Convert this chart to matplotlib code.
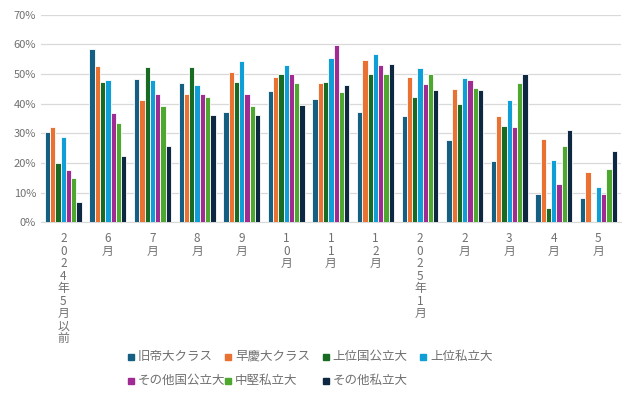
import matplotlib.pyplot as plt
from matplotlib.patches import Rectangle
import numpy as np

plt.rcParams['font.family'] = ['Noto Sans CJK JP', 'DejaVu Sans']

# categories (month labels, stacked vertically as in the original)
months = ["2024年5月以前", "6月", "7月", "8月", "9月", "10月", "11月", "12月",
          "2025年1月", "2月", "3月", "4月", "5月"]

# series values (%)
kyutei = [30.4, 58.3, 48.4, 47.0, 37.3, 44.4, 41.5, 37.3, 36.0, 27.6, 20.6, 9.7, 8.1]
soukei = [32.0, 52.7, 41.3, 43.1, 50.8, 49.0, 47.1, 54.6, 49.0, 45.1, 35.7, 28.2, 16.9]
joui_kokkou = [20.0, 47.3, 52.5, 52.5, 47.3, 49.9, 47.3, 49.9, 42.4, 39.8, 32.4, 4.7, 0.0]
joui_shiritsu = [28.8, 47.9, 47.9, 46.4, 54.4, 53.1, 55.5, 56.6, 52.0, 48.8, 41.1, 20.9, 11.9]
sonota_kokkou = [17.5, 37.0, 43.4, 43.4, 43.4, 49.9, 59.7, 53.1, 46.6, 48.1, 32.2, 12.8, 9.7]
chuken_shiritsu = [14.9, 33.4, 39.3, 42.4, 39.2, 46.9, 43.8, 49.9, 49.9, 45.4, 46.9, 25.6, 18.0]
sonota_shiritsu = [6.9, 22.4, 25.8, 36.1, 36.1, 39.6, 46.4, 53.4, 44.7, 44.7, 49.9, 31.0, 24.0]

series = [
    ("旧帝大クラス", kyutei, "#156082"),
    ("早慶大クラス", soukei, "#E97132"),
    ("上位国公立大", joui_kokkou, "#196B24"),
    ("上位私立大", joui_shiritsu, "#0F9ED5"),
    ("その他国公立大", sonota_kokkou, "#A02B93"),
    ("中堅私立大", chuken_shiritsu, "#4EA72E"),
    ("その他私立大", sonota_shiritsu, "#0E2841"),
]

text_color = "#707070"

W, H = 636, 398
fig = plt.figure(figsize=(W / 100, H / 100), dpi=100)
ax = fig.add_axes([0.0645, 0.4415, 0.9115, 0.5215])

x = np.arange(len(months))
width = 0.118
for i, (name, vals, color) in enumerate(series):
    offset = (i - 3) * width
    ax.bar(x + offset, np.array(vals) / 100, width, color=color,
           edgecolor="white", linewidth=0.6, label=name, zorder=3)

ax.set_xlim(-0.5, len(months) - 0.5)
ax.set_ylim(0, 0.7)
yt = np.arange(0, 0.71, 0.1)
ax.set_yticks(yt)
ax.set_yticklabels([f"{int(round(v * 100))}%" for v in yt])
ax.grid(axis="y", color="#d9d9d9", linewidth=0.9, zorder=0)
for s in ["top", "right", "left"]:
    ax.spines[s].set_visible(False)
ax.spines["bottom"].set_color("#d9d9d9")
ax.tick_params(axis="both", length=0, colors=text_color, labelsize=8)

ax.set_xticks(x)
ax.set_xticklabels(["\n".join(m) for m in months], fontsize=8.5,
                   linespacing=0.95, va="top")
ax.tick_params(axis="x", pad=7)

# legend laid out like Excel: 4 equal columns, row-major
for i, (name, vals, color) in enumerate(series):
    col, row = i % 4, i // 4
    px = 128 + col * 97.3
    py = 356.5 + row * 24
    fig.add_artist(Rectangle((px / W, 1 - (py + 3) / H), 6 / W, 6 / H,
                             transform=fig.transFigure, color=color))
    fig.text((px + 10) / W, 1 - py / H, name, fontsize=9, color=text_color,
             va="center", ha="left")

fig.savefig("out.png", dpi=100)
